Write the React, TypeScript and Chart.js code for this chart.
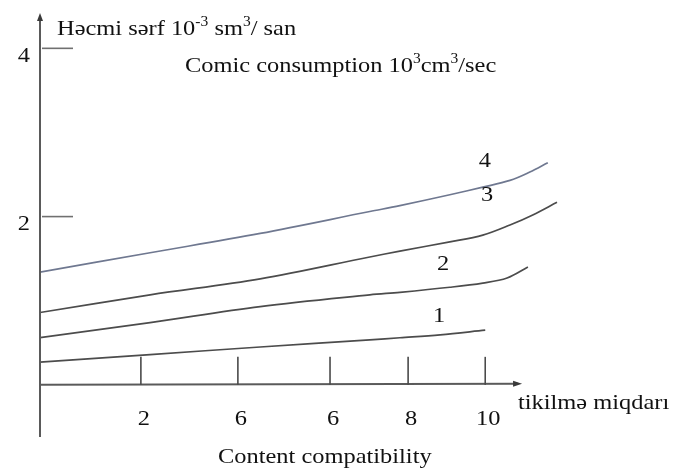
import React, { useEffect, useRef } from "react";
import { Chart, registerables } from "chart.js";

Chart.register(...registerables);

// ---- data ----
const curve1X = [0, 2.27, 4.54, 6.8, 7.42, 8.25, 9.18];
const curve1Y = [0.27, 0.36, 0.45, 0.535, 0.56, 0.595, 0.65];
const curve2X = [0, 2.27, 4.54, 6.8, 7.42, 8.45, 9.13, 9.63, 10.06];
const curve2Y = [0.56, 0.74, 0.93, 1.07, 1.1, 1.16, 1.21, 1.27, 1.4];
const curve3X = [0, 2.27, 4.54, 6.8, 7.42, 8.45, 9.13, 9.69, 10.16, 10.66];
const curve3Y = [0.86, 1.07, 1.26, 1.52, 1.59, 1.7, 1.78, 1.9, 2.02, 2.17];
const curve4X = [0, 2.27, 4.54, 6.8, 7.42, 8.45, 9.13, 9.69, 10.1, 10.47];
const curve4Y = [1.34, 1.57, 1.8, 2.06, 2.13, 2.26, 2.35, 2.43, 2.53, 2.64];

const curveLabels = ["1", "2", "3", "4"];
const curveLabelX = [8.23, 8.31, 9.22, 9.17];
const curveLabelY = [0.81, 1.43, 2.25, 2.66];

const xTickValues = [2.08, 4.08, 5.98, 7.59, 9.18];
const xTickLabels = ["2", "6", "6", "8", "10"];
const yTickValues = [2, 4];
const yTickLabels = ["2", "4"];

const xAxisEnd = 9.94;

const titleTop = [
  { t: "Həcmi sərf 10" },
  { t: "-3", sup: true },
  { t: " sm" },
  { t: "3", sup: true },
  { t: "/ san" },
];
const titleSub = [
  { t: "Comic consumption 10" },
  { t: "3", sup: true },
  { t: "cm" },
  { t: "3", sup: true },
  { t: "/sec" },
];
const xTitleAz = "tikilmə miqdarı";
const xTitleEn = "Content compatibility";

const FONT = '"Liberation Serif", "Times New Roman", serif';
const FS = 22;
const SX = 1.11; // horizontal stretch of the reference lettering

function toPoints(xs: number[], ys: number[]) {
  return xs.map((x, i) => ({ x, y: ys[i] }));
}

function txt(ctx: CanvasRenderingContext2D, s: string, x: number, y: number) {
  ctx.save();
  ctx.translate(x, y);
  ctx.scale(SX, 1);
  ctx.fillText(s, 0, 0);
  ctx.restore();
}

function drawRich(ctx: CanvasRenderingContext2D, segs: { t: string; sup?: boolean }[], x: number, y: number) {
  let cx = x;
  for (const s of segs) {
    if (s.sup) {
      ctx.font = `${Math.round(FS * 0.62)}px ${FONT}`;
      txt(ctx, s.t, cx, y - FS * 0.4);
    } else {
      ctx.font = `${FS}px ${FONT}`;
      txt(ctx, s.t, cx, y);
    }
    cx += ctx.measureText(s.t).width * SX;
  }
}

const axisPlugin = {
  id: "handAxes",
  afterDraw(chart: any) {
    const ctx: CanvasRenderingContext2D = chart.ctx;
    const xs = chart.scales.x;
    const ys = chart.scales.y;
    const x0 = xs.getPixelForValue(0);
    const y0 = ys.getPixelForValue(0);
    const yTop = ys.getPixelForValue(ys.max);
    const yBot = ys.getPixelForValue(ys.min);
    const xEnd = xs.getPixelForValue(xAxisEnd);
    ctx.save();
    ctx.strokeStyle = "#5a5a5a";
    ctx.fillStyle = "#3a3a3a";
    ctx.lineWidth = 2;
    // y axis
    ctx.beginPath();
    ctx.moveTo(x0, yBot);
    ctx.lineTo(x0, yTop + 4);
    ctx.stroke();
    ctx.beginPath();
    ctx.moveTo(x0, yTop);
    ctx.lineTo(x0 - 3, yTop + 8);
    ctx.lineTo(x0 + 3, yTop + 8);
    ctx.closePath();
    ctx.fill();
    // x axis
    ctx.beginPath();
    ctx.moveTo(x0, y0);
    ctx.lineTo(xEnd - 4, y0 - 1);
    ctx.stroke();
    ctx.beginPath();
    ctx.moveTo(xEnd, y0 - 1);
    ctx.lineTo(xEnd - 9, y0 - 4);
    ctx.lineTo(xEnd - 9, y0 + 2);
    ctx.closePath();
    ctx.fill();
    // x ticks (upwards)
    ctx.lineWidth = 1.6;
    ctx.strokeStyle = "#4a4a4a";
    xTickValues.forEach((v) => {
      const px = xs.getPixelForValue(v);
      ctx.beginPath();
      ctx.moveTo(px, y0);
      ctx.lineTo(px, y0 - 28);
      ctx.stroke();
    });
    // y ticks (to the right)
    ctx.strokeStyle = "#707070";
    yTickValues.forEach((v) => {
      const py = ys.getPixelForValue(v);
      ctx.beginPath();
      ctx.moveTo(x0 + 2, py);
      ctx.lineTo(x0 + 33, py);
      ctx.stroke();
    });
    // tick labels
    ctx.fillStyle = "#111";
    ctx.font = `${FS}px ${FONT}`;
    ctx.textBaseline = "middle";
    ctx.textAlign = "center";
    xTickValues.forEach((v, i) => {
      txt(ctx, xTickLabels[i], xs.getPixelForValue(v) + 3, y0 + 34);
    });
    ctx.textAlign = "right";
    yTickValues.forEach((v, i) => {
      txt(ctx, yTickLabels[i], x0 - 10, ys.getPixelForValue(v) + 8);
    });
    // curve labels
    ctx.textAlign = "center";
    curveLabels.forEach((l, i) => {
      txt(ctx, l, xs.getPixelForValue(curveLabelX[i]), ys.getPixelForValue(curveLabelY[i]));
    });
    // titles
    ctx.textAlign = "left";
    ctx.textBaseline = "alphabetic";
    drawRich(ctx, titleTop, 57, 35);
    drawRich(ctx, titleSub, 185, 72);
    ctx.font = `${FS}px ${FONT}`;
    txt(ctx, xTitleAz, 518, 409);
    txt(ctx, xTitleEn, 218, 463);
    ctx.restore();
  },
};

export default function App() {
  const ref = useRef<HTMLCanvasElement | null>(null);
  useEffect(() => {
    document.body.style.margin = "0";
    const canvas = ref.current!;
    const lineCol = "#4c4c4c";
    const chart = new Chart(canvas, {
      type: "line",
      data: {
        datasets: [
          { label: "1", data: toPoints(curve1X, curve1Y), borderColor: lineCol },
          { label: "2", data: toPoints(curve2X, curve2Y), borderColor: lineCol },
          { label: "3", data: toPoints(curve3X, curve3Y), borderColor: lineCol },
          { label: "4", data: toPoints(curve4X, curve4Y), borderColor: "#6f7890" },
        ],
      },
      options: {
        animation: false,
        responsive: false,
        devicePixelRatio: 1,
        layout: { padding: { left: 40, right: 105.5, top: 13, bottom: 35 } },
        elements: {
          point: { radius: 0 },
          line: { borderWidth: 1.7, tension: 0.35, fill: false },
        },
        plugins: { legend: { display: false }, tooltip: { enabled: false } },
        scales: {
          x: { type: "linear", min: 0, max: 11, display: false },
          y: { type: "linear", min: -0.62, max: 4.42, display: false },
        },
      },
      plugins: [axisPlugin],
    });
    return () => chart.destroy();
  }, []);
  return (
    <div style={{ position: "absolute", left: 0, top: 0, width: 679, height: 472, background: "#fff" }}>
      <canvas ref={ref} width={679} height={472} style={{ display: "block" }} />
    </div>
  );
}
